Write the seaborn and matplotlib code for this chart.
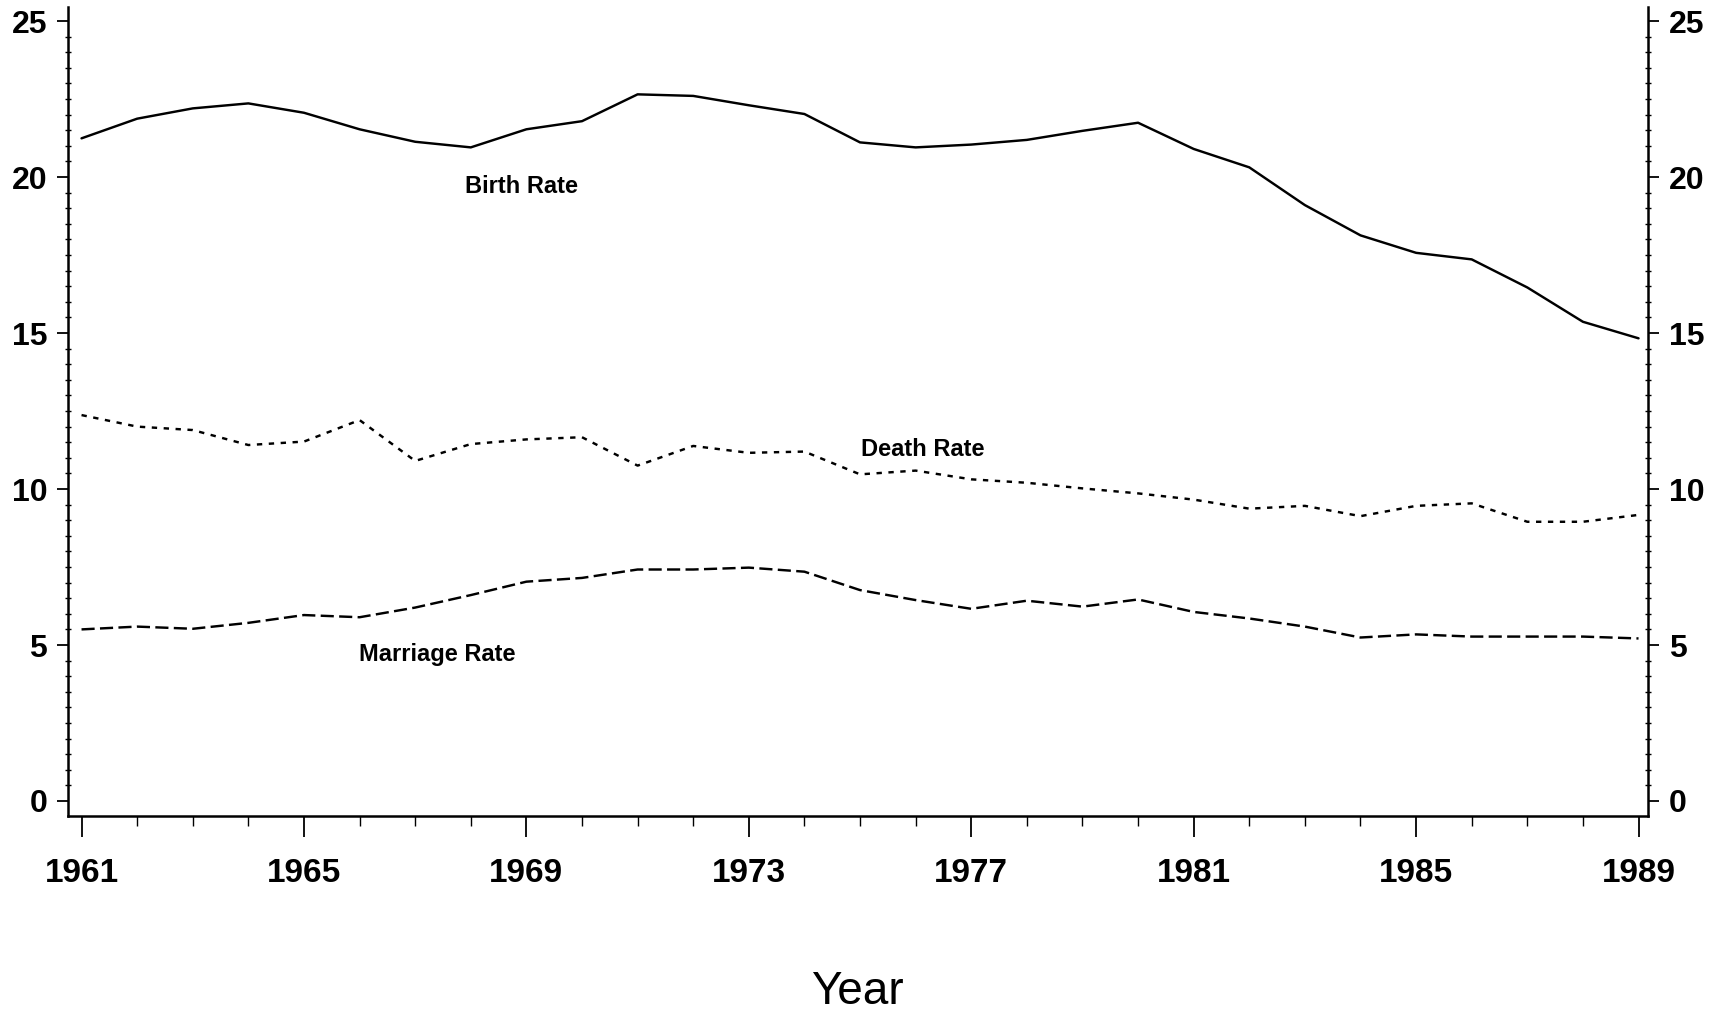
import pandas as pd
import matplotlib.pyplot as plt
from matplotlib.ticker import MultipleLocator
import seaborn as sns

# dados (taxas por 1000 habitantes)
anos = list(range(1961, 1990))
taxa_natalidade = [21.24, 21.87, 22.2, 22.36, 22.06, 21.53, 21.13, 20.95, 21.53, 21.79,
                   22.65, 22.6, 22.3, 22.02, 21.11, 20.95, 21.04, 21.19, 21.48, 21.74,
                   20.9, 20.31, 19.1, 18.13, 17.57, 17.36, 16.46, 15.36, 14.83]
taxa_mortalidade = [12.37, 12.0, 11.89, 11.41, 11.52, 12.21, 10.9, 11.44, 11.59, 11.66,
                    10.75, 11.38, 11.16, 11.2, 10.47, 10.59, 10.31, 10.2, 10.02, 9.86,
                    9.66, 9.37, 9.46, 9.13, 9.46, 9.54, 8.95, 8.95, 9.17]
taxa_casamento = [5.5, 5.59, 5.52, 5.71, 5.96, 5.89, 6.2, 6.6, 7.03, 7.15,
                  7.42, 7.42, 7.48, 7.35, 6.76, 6.44, 6.16, 6.42, 6.23, 6.46,
                  6.06, 5.85, 5.59, 5.24, 5.34, 5.27, 5.27, 5.27, 5.21]
series = ['Birth Rate', 'Death Rate', 'Marriage Rate']
anos_rotulo = list(range(1961, 1990, 4))

# tabela longa pro seaborn
df = pd.DataFrame({
    'ano': anos * 3,
    'taxa': taxa_natalidade + taxa_mortalidade + taxa_casamento,
    'serie': [s for s in series for _ in anos],
})

sns.set_theme(style="ticks")
plt.rcParams['font.family'] = ['Liberation Sans', 'DejaVu Sans']
plt.rcParams['text.color'] = 'black'
plt.rcParams['xtick.color'] = 'black'
plt.rcParams['ytick.color'] = 'black'
plt.rcParams['axes.edgecolor'] = 'black'

fig = plt.figure(figsize=(17.09, 10.13), dpi=100)
ax = fig.add_axes([0.0398, 0.1945, 0.9245, 0.7986])

sns.lineplot(data=df, x='ano', y='taxa', style='serie', color='black',
             dashes={'Birth Rate': '', 'Death Rate': (2.2, 2.7), 'Marriage Rate': (5.4, 2.2)},
             linewidth=1.75, legend=False, ax=ax)

# rótulos das linhas
ax.text(1968.92, 19.71, 'Birth Rate', fontsize=17, fontweight='bold', ha='center', va='center')
ax.text(1976.12, 11.28, 'Death Rate', fontsize=17, fontweight='bold', ha='center', va='center')
ax.text(1967.39, 4.68, 'Marriage Rate', fontsize=17, fontweight='bold', ha='center', va='center')

ax.set_xlim(1960.757, 1989.17)
ax.set_ylim(-0.48, 25.45)

ax.set_xticks(anos_rotulo)
ax.set_xticklabels([str(a) for a in anos_rotulo], fontsize=24, fontweight='bold')
ax.xaxis.set_minor_locator(MultipleLocator(1))
ax.yaxis.set_major_locator(MultipleLocator(5))
ax.yaxis.set_minor_locator(MultipleLocator(0.5))

ax.yaxis.set_ticks_position('both')
ax.tick_params(axis='y', which='major', labelsize=23, length=8, width=1.3, direction='out',
               labelleft=True, labelright=True, pad=7)
ax.tick_params(axis='y', which='minor', length=4, width=1.0, direction='inout')
ax.tick_params(axis='x', which='major', length=15, width=1.3, direction='out', pad=15)
ax.tick_params(axis='x', which='minor', length=7, width=1.0, direction='out')
for lab in ax.get_yticklabels():
    lab.set_fontweight('bold')

for lado in ['left', 'right', 'bottom']:
    ax.spines[lado].set_visible(True)
    ax.spines[lado].set_linewidth(1.8)
    ax.spines[lado].set_color('black')
ax.spines['top'].set_visible(False)

ax.set_ylabel('')
ax.set_xlabel('')
fig.text(0.5015, 0.009, 'Year', fontsize=33, ha='center', va='baseline')

fig.savefig('out.png', dpi=100)
